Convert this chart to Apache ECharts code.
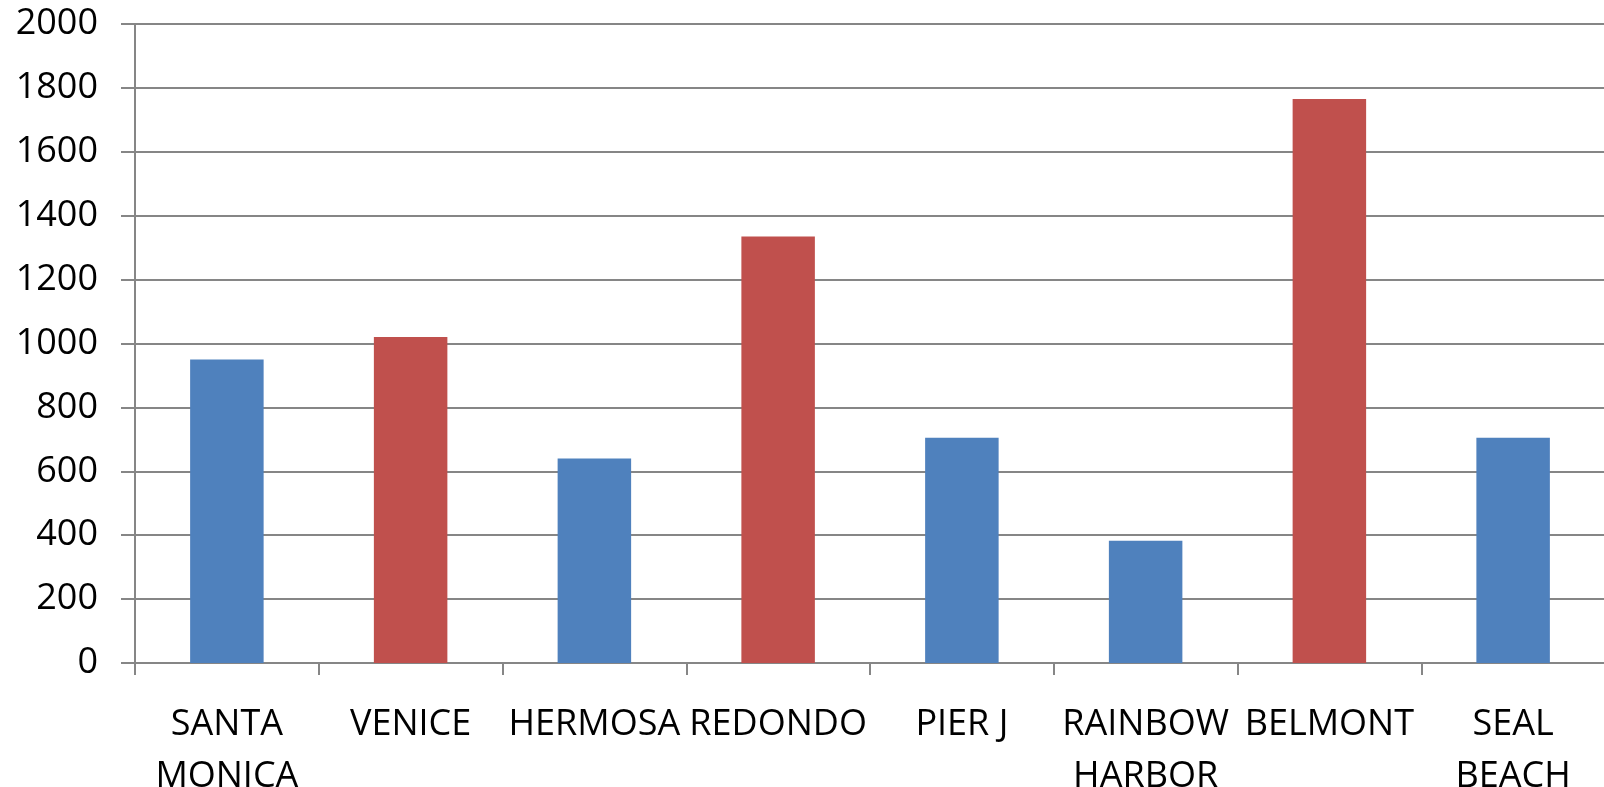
<!DOCTYPE html>
<html>
<head>
<meta charset="utf-8">
<title>Beach counts</title>
<script src="https://cdn.jsdelivr.net/npm/echarts@6/dist/echarts.min.js"></script>
<style>
  html, body { margin: 0; padding: 0; background: #fff; }
  #chart { width: 1604px; height: 787px; }
</style>
</head>
<body>
<div id="chart"></div>
<script>
// Beaches along the coast and their totals
const beaches = ['SANTA\nMONICA', 'VENICE', 'HERMOSA', 'REDONDO', 'PIER J', 'RAINBOW\nHARBOR', 'BELMONT', 'SEAL\nBEACH'];
const totals = [950, 1020, 640, 1335, 705, 383, 1765, 705];
// Beaches drawn in the accent colour
const accented = ['VENICE', 'REDONDO', 'BELMONT'];
const yTicks = { min: 0, max: 2000, step: 200 };

const BLUE = '#4F81BD';
const RED = '#C0504D';
const GRID = '#868686';

const chart = echarts.init(document.getElementById('chart'));
chart.setOption({
  animation: false,
  backgroundColor: '#fff',
  grid: { left: 135, top: 24, width: 1470, height: 639, outerBoundsMode: 'none', containLabel: false },
  xAxis: {
    type: 'category',
    data: beaches,
    axisLine: { show: true, lineStyle: { color: GRID, width: 2 } },
    axisTick: { show: true, length: 12, alignWithLabel: false, lineStyle: { color: GRID, width: 2 } },
    axisLabel: {
      interval: 0,
      margin: 36,
      color: '#000',
      fontFamily: 'Open Sans',
      fontSize: 36,
      lineHeight: 52
    }
  },
  yAxis: {
    type: 'value',
    min: yTicks.min,
    max: yTicks.max,
    interval: yTicks.step,
    axisLine: { show: true, lineStyle: { color: GRID, width: 2 } },
    axisTick: { show: true, length: 14, lineStyle: { color: GRID, width: 2 } },
    splitLine: { show: true, lineStyle: { color: GRID, width: 2 } },
    axisLabel: {
      margin: 37,
      color: '#000',
      fontFamily: 'Open Sans',
      fontSize: 36,
      formatter: (v) => String(v)
    }
  },
  series: [{
    type: 'bar',
    barWidth: '40%',
    data: totals.map((v, i) => ({
      value: v,
      itemStyle: { color: accented.includes(beaches[i]) ? RED : BLUE }
    }))
  }]
});
</script>
</body>
</html>
